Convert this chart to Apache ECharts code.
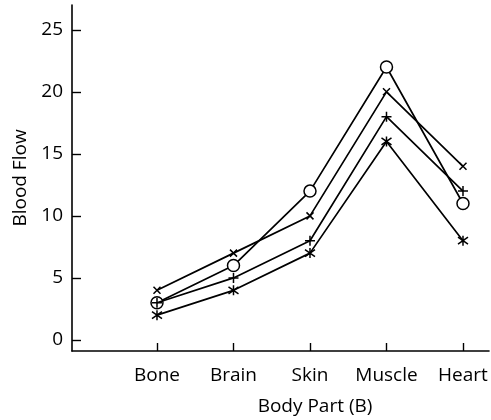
<!DOCTYPE html>
<html><head><meta charset="utf-8">
<script src="https://cdn.jsdelivr.net/npm/echarts@6/dist/echarts.min.js"></script>
<style>html,body{margin:0;padding:0;background:#fff}#c{width:491px;height:420px}</style>
</head><body><div id="c"></div>
<script>
const categories = ['Bone', 'Brain', 'Skin', 'Muscle', 'Heart'];
const categoryPos = [1, 2, 3, 4, 5];
const yTicks = [0, 5, 10, 15, 20, 25];
const circleSeries = [3, 6, 12, 22, 11];
const crossSeries = [4, 7, 10, 20, 14];
const plusSeries = [3, 5, 8, 18, 12];
const starSeries = [2, 4, 7, 16, 8];

const FONT = 'Open Sans';
const pairs = vals => vals.map((v, i) => [categoryPos[i], v]);
const mk = (name, data, symbol, size, fill) => ({
  name, type: 'line', data: pairs(data), symbol, symbolSize: size,
  showAllSymbol: true,
  lineStyle: { color: '#000', width: 1.7 },
  itemStyle: { color: fill, borderColor: '#000', borderWidth: 1.5 },
  z: symbol === 'circle' ? 1 : 3
});

const chart = echarts.init(document.getElementById('c'));
chart.setOption({
  animation: false,
  backgroundColor: '#fff',
  title: { text: 'Body Part (B)', left: 310, top: 392, textAlign: 'center',
    textStyle: { fontFamily: FONT, fontSize: 19, fontWeight: 'normal', color: '#000' } },
  grid: { left: 72, right: 2, top: 5, bottom: 69 },
  xAxis: {
    type: 'value', min: -0.111, max: 5.34,
    axisLine: { onZero: false, lineStyle: { color: '#000', width: 1.6 } },
    axisTick: { inside: true, length: 8, customValues: categoryPos, lineStyle: { color: '#000', width: 1.4 } },
    axisLabel: { customValues: categoryPos, margin: 15, fontFamily: FONT, fontSize: 19, color: '#000',
      formatter: v => categories[Math.round(v) - 1] || '' },
    splitLine: { show: false }
  },
  yAxis: {
    type: 'value', min: -0.89, max: 27,
    name: 'Blood Flow', nameLocation: 'middle', nameGap: 42, nameRotate: 90,
    nameTextStyle: { fontFamily: FONT, fontSize: 19, color: '#000' },
    axisLine: { show: true, onZero: false, lineStyle: { color: '#000', width: 1.6 } },
    axisTick: { show: true, inside: true, length: 9, customValues: yTicks, lineStyle: { color: '#000', width: 1.4 } },
    axisLabel: { customValues: yTicks, margin: 9, fontFamily: FONT, fontSize: 19, color: '#000' },
    splitLine: { show: false }
  },
  series: [
    mk('circle', circleSeries, 'circle', 12, '#fff'),
    mk('cross', crossSeries, 'path://M0,0L10,10M10,0L0,10', 7, 'none'),
    mk('plus', plusSeries, 'path://M5,0L5,10M0,5L10,5', 10, 'none'),
    mk('star', starSeries, 'path://M0,1.5L10,8.5M10,1.5L0,8.5M5,0L5,10', 10, 'none')
  ]
});
</script></body></html>
